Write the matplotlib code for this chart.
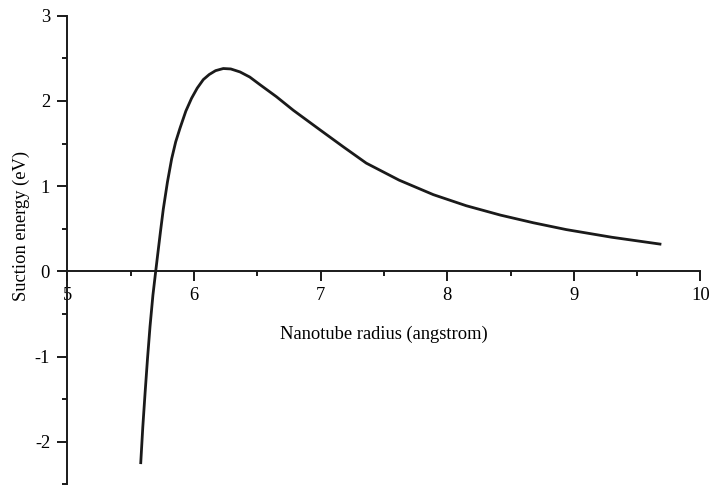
import matplotlib
matplotlib.use("Agg")
import matplotlib.pyplot as plt

# values
radius = [5.579, 5.595, 5.613, 5.632, 5.652, 5.675, 5.697, 5.713, 5.735, 5.757,
          5.79, 5.823, 5.855, 5.889, 5.935, 5.98, 6.025, 6.073, 6.12, 6.17,
          6.231, 6.29, 6.363, 6.44, 6.521, 6.65, 6.784, 6.995, 7.18, 7.36,
          7.62, 7.89, 8.15, 8.42, 8.68, 8.94, 9.3, 9.68]
energy = [-2.245, -1.83, -1.43, -1.03, -0.65, -0.28, 0.0, 0.2, 0.47, 0.73,
          1.05, 1.32, 1.52, 1.68, 1.88, 2.03, 2.15, 2.25, 2.31, 2.355,
          2.38, 2.375, 2.34, 2.28, 2.19, 2.05, 1.89, 1.66, 1.46, 1.27,
          1.07, 0.90, 0.77, 0.66, 0.57, 0.49, 0.40, 0.32]

x_ticks = [5, 6, 7, 8, 9, 10]
x_labels = ['5', '6', '7', '8', '9', '10']
y_ticks = [-2, -1, 0, 1, 2, 3]
y_labels = ['-2', '-1', '0', '1', '2', '3']

plt.rcParams['font.family'] = ['Liberation Serif', 'DejaVu Serif']

fig = plt.figure(figsize=(7.1, 4.87), dpi=100)
ax = fig.add_axes([0.095, 0.0053, 0.8916, 0.9625])

ax.plot(radius, energy, color='#1a1a1a', lw=2.0)

ax.set_xlim(5, 10)
ax.set_ylim(-2.5, 3)

ax.spines['top'].set_visible(False)
ax.spines['right'].set_visible(False)
ax.spines['bottom'].set_position(('data', 0))
for s in ['left', 'bottom']:
    ax.spines[s].set_linewidth(1.4)
    ax.spines[s].set_color('#1a1a1a')

ax.set_xticks(x_ticks)
ax.set_xticklabels(x_labels)
ax.set_xticks([5.5, 6.5, 7.5, 8.5, 9.5], minor=True)
ax.set_yticks(y_ticks)
ax.set_yticklabels(y_labels)
ax.set_yticks([-2.5, -1.5, -0.5, 0.5, 1.5, 2.5], minor=True)

ax.tick_params(which='major', direction='out', length=7.5, width=1.4,
               color='#1a1a1a', labelsize=13.3, pad=4)
ax.tick_params(which='minor', direction='out', length=3.5, width=1.4,
               color='#1a1a1a')
ax.tick_params(axis='y', which='major', pad=5)

ax.set_xlabel('Nanotube radius (angstrom)', fontsize=13.3)
ax.set_ylabel('Suction energy (eV)', fontsize=13.3)
ax.xaxis.set_label_coords(0.5, 0.338)
ax.yaxis.set_label_coords(-0.059, 0.551)

fig.savefig('out.png', dpi=100)
